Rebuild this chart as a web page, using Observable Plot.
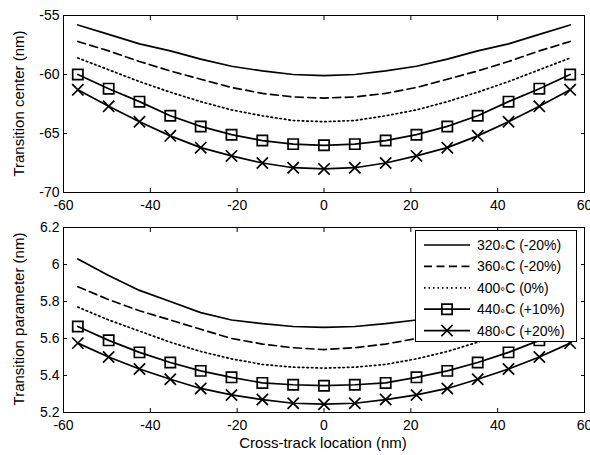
<!DOCTYPE html>
<html>
<head>
<meta charset="utf-8">
<script src="https://cdn.jsdelivr.net/npm/d3@7"></script>
<script src="https://cdn.jsdelivr.net/npm/@observablehq/plot@0.6"></script>
<style>
  html, body { margin: 0; padding: 0; background: white; }
  #wrap { position: relative; width: 590px; height: 455px; overflow: hidden; }
  #wrap svg { display: block; }
  #overlay { position: absolute; left: 0; top: 0; }
</style>
</head>
<body>
<div id="wrap"></div>
<script>
// Cross-track locations (nm)
const xs = [-56.7, -49.6, -42.5, -35.4, -28.4, -21.3, -14.2, -7.1, 0, 7.1, 14.2, 21.3, 28.4, 35.4, 42.5, 49.6, 56.7];

const seriesNames = ["320°C (-20%)", "360°C (-20%)", "400°C (0%)", "440°C (+10%)", "480°C (+20%)"];

// Transition center (nm)
const center320 = [-55.8, -56.6, -57.4, -58.0, -58.7, -59.3, -59.7, -60.0, -60.1, -60.0, -59.7, -59.3, -58.7, -58.0, -57.4, -56.6, -55.8];
const center360 = [-57.2, -58.0, -58.9, -59.7, -60.4, -61.1, -61.6, -61.9, -62.0, -61.9, -61.6, -61.1, -60.4, -59.7, -58.9, -58.0, -57.2];
const center400 = [-58.6, -59.6, -60.6, -61.5, -62.3, -63.0, -63.5, -63.9, -64.0, -63.9, -63.5, -63.0, -62.3, -61.5, -60.6, -59.6, -58.6];
const center440 = [-60.0, -61.2, -62.3, -63.5, -64.4, -65.1, -65.6, -65.9, -66.0, -65.9, -65.6, -65.1, -64.4, -63.5, -62.3, -61.2, -60.0];
const center480 = [-61.3, -62.7, -64.0, -65.2, -66.2, -66.9, -67.5, -67.9, -68.0, -67.9, -67.5, -66.9, -66.2, -65.2, -64.0, -62.7, -61.3];

// Transition parameter (nm)
const param320 = [6.03, 5.94, 5.86, 5.80, 5.74, 5.70, 5.68, 5.665, 5.66, 5.665, 5.68, 5.70, 5.74, 5.80, 5.86, 5.94, 6.03];
const param360 = [5.88, 5.81, 5.75, 5.70, 5.65, 5.60, 5.57, 5.55, 5.54, 5.55, 5.57, 5.60, 5.65, 5.70, 5.75, 5.81, 5.88];
const param400 = [5.77, 5.70, 5.64, 5.58, 5.53, 5.49, 5.46, 5.445, 5.44, 5.445, 5.46, 5.49, 5.53, 5.58, 5.64, 5.70, 5.77];
const param440 = [5.665, 5.59, 5.525, 5.47, 5.425, 5.39, 5.36, 5.35, 5.345, 5.35, 5.36, 5.39, 5.425, 5.47, 5.525, 5.59, 5.665];
const param480 = [5.575, 5.50, 5.435, 5.38, 5.33, 5.295, 5.27, 5.25, 5.245, 5.25, 5.27, 5.295, 5.33, 5.38, 5.435, 5.50, 5.575];

const xTicks = [-60, -40, -20, 0, 20, 40, 60];
const centerTicks = [-70, -65, -60, -55];
const paramTicks = [5.2, 5.4, 5.6, 5.8, 6, 6.2];

const styles = [
  {dash: null, symbol: null},
  {dash: "8,4.5", symbol: null},
  {dash: "1.5,3", symbol: null},
  {dash: null, symbol: "square", r: 5.8},
  {dash: null, symbol: "times", r: 5.2}
];

const FONT = "'Liberation Sans', Arial, Helvetica, sans-serif";
const fmt = d => String(d);
const blank = () => "";

function panel(valuesList, yDomain, yTicks, h, mt, mb) {
  const marks = [];
  valuesList.forEach((vals, k) => {
    const data = xs.map((x, i) => ({x, y: vals[i]}));
    const st = styles[k];
    marks.push(Plot.line(data, {x: "x", y: "y", stroke: "black", strokeWidth: 1.7, strokeDasharray: st.dash}));
    if (st.symbol) marks.push(Plot.dot(data, {x: "x", y: "y", symbol: st.symbol, r: st.r, stroke: "black", strokeWidth: 1.7, fill: "none"}));
  });
  return Plot.plot({
    width: 590, height: h,
    marginLeft: 63, marginRight: 6, marginTop: mt, marginBottom: mb,
    style: {fontFamily: FONT, fontSize: "14px", color: "black", background: "white", overflow: "visible"},
    x: {domain: [-60, 60]},
    y: {domain: yDomain},
    marks: [
      Plot.axisX({ticks: xTicks, tickSize: 0, tickPadding: 8, tickFormat: fmt, label: null, fontSize: 14}),
      Plot.axisX({ticks: xTicks, tickSize: -4, tickFormat: blank, label: null}),
      Plot.axisX({ticks: xTicks, anchor: "top", tickSize: -4, tickFormat: blank, label: null}),
      Plot.axisY({ticks: yTicks, tickSize: 0, tickPadding: 4, tickFormat: fmt, label: null, fontSize: 14}),
      Plot.axisY({ticks: yTicks, tickSize: -4, tickFormat: blank, label: null}),
      Plot.axisY({ticks: yTicks, anchor: "right", tickSize: -4, tickFormat: blank, label: null}),
      ...marks,
      Plot.frame({stroke: "black", strokeWidth: 1})
    ]
  });
}

const wrap = document.getElementById("wrap");
wrap.appendChild(panel([center320, center360, center400, center440, center480], [-70, -55], centerTicks, 218, 15, 26));
wrap.appendChild(panel([param320, param360, param400, param440, param480], [5.2, 6.2], paramTicks, 237, 9, 43));

// Overlay: axis titles and legend
const svg = d3.select(wrap).append("svg")
  .attr("id", "overlay").attr("width", 590).attr("height", 455)
  .style("font-family", FONT);

svg.append("text").attr("transform", "translate(19,103.5) rotate(-90)")
  .attr("text-anchor", "middle").attr("dy", "0.35em").attr("font-size", 15).text("Transition center (nm)");
svg.append("text").attr("transform", "translate(19,319) rotate(-90)")
  .attr("text-anchor", "middle").attr("dy", "0.35em").attr("font-size", 15).text("Transition parameter (nm)");
svg.append("text").attr("x", 323).attr("y", 443)
  .attr("text-anchor", "middle").attr("dy", "0.35em").attr("font-size", 15).text("Cross-track location (nm)");

const lg = svg.append("g");
lg.append("rect").attr("x", 415.5).attr("y", 230.5).attr("width", 161).attr("height", 111)
  .attr("fill", "white").attr("stroke", "black").attr("stroke-width", 1);
seriesNames.forEach((name, k) => {
  const cy = 245 + k * 21.4;
  const st = styles[k];
  lg.append("line").attr("x1", 424).attr("x2", 470).attr("y1", cy).attr("y2", cy)
    .attr("stroke", "black").attr("stroke-width", 1.7).attr("stroke-dasharray", st.dash);
  if (st.symbol) {
    const sym = st.symbol === "square" ? d3.symbolSquare : d3.symbolTimes;
    lg.append("path").attr("transform", `translate(447,${cy})`)
      .attr("d", d3.symbol(sym, Math.PI * st.r * st.r)())
      .attr("fill", "none").attr("stroke", "black").attr("stroke-width", 1.7);
  }
  const [pre, post] = name.split("°");
  const t = lg.append("text").attr("x", 477).attr("y", cy + 5).attr("font-size", 14);
  t.append("tspan").text(pre);
  t.append("tspan").attr("dy", 3.5).attr("font-size", 12).text("°");
  t.append("tspan").attr("dy", -3.5).text(post);
});
</script>
</body>
</html>
